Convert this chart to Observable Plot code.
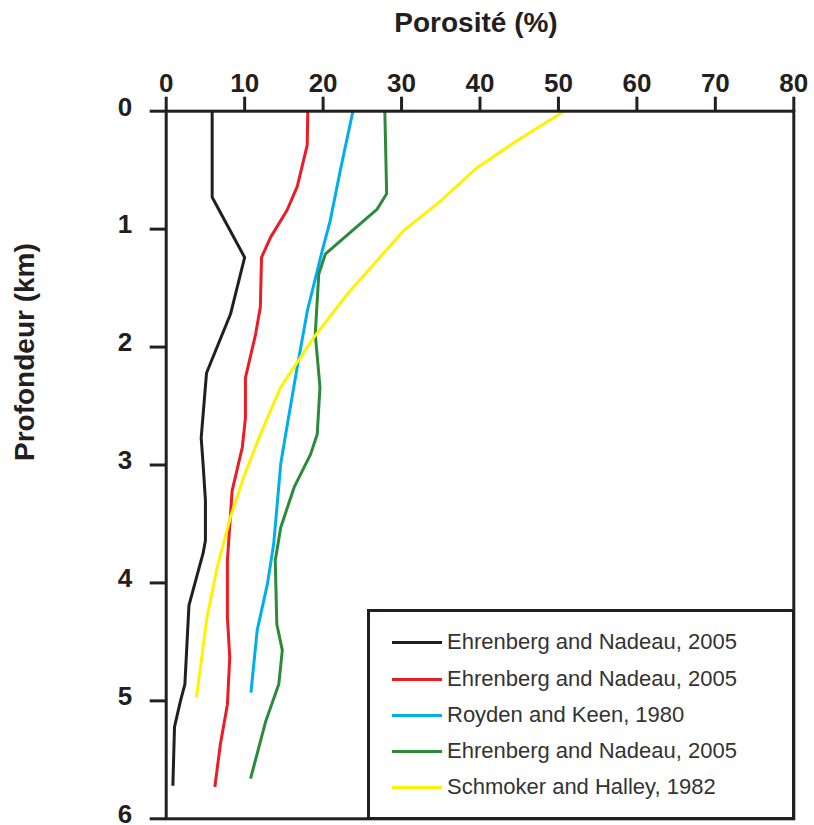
<!DOCTYPE html>
<html><head><meta charset="utf-8">
<script src="https://cdn.jsdelivr.net/npm/d3@7"></script>
<script src="https://cdn.jsdelivr.net/npm/@observablehq/plot@0.6"></script>
<style>
body{margin:0;background:#fff;}
#wrap{position:relative;width:814px;height:825px;font-family:"Liberation Sans",Arial,sans-serif;}
#legend{position:absolute;box-sizing:border-box;border:3px solid #231f20;background:#fff;}
.row{position:absolute;display:flex;align-items:center;height:24px;font-size:22px;color:#333;white-space:nowrap;}
.swatch{width:50px;height:3px;margin-right:5px;}
</style></head>
<body><div id="wrap"></div>
<script>
const xLabel = "Porosité (%)";
const yLabel = "Profondeur (km)";
const xTicks = [0, 10, 20, 30, 40, 50, 60, 70, 80];
const yTicks = [0, 1, 2, 3, 4, 5, 6];

const seriesNames = ["Ehrenberg and Nadeau, 2005", "Ehrenberg and Nadeau, 2005", "Royden and Keen, 1980", "Ehrenberg and Nadeau, 2005", "Schmoker and Halley, 1982"];
const seriesColors = ["#231f20", "#ed1c24", "#00aeef", "#2b8a3c", "#fff200"];

const blackDepth = [0, 0.73, 1.24, 1.72, 2.22, 2.77, 2.99, 3.30, 3.64, 3.75, 3.90, 4.19, 4.86, 5.0, 5.22, 5.72];
const blackPor   = [5.86, 5.86, 10.0, 8.2, 5.14, 4.46, 4.7, 5.0, 5.0, 4.7, 4.08, 2.9, 2.38, 1.82, 1.06, 0.85];

const redDepth = [0, 0.29, 0.64, 0.84, 1.07, 1.24, 1.66, 1.89, 2.26, 2.6, 2.85, 3.22, 3.81, 4.29, 4.63, 5.03, 5.37, 5.73];
const redPor   = [18.05, 17.97, 16.7, 15.4, 13.3, 12.15, 12.0, 11.4, 10.1, 10.1, 9.7, 8.4, 7.8, 7.8, 8.1, 7.8, 6.9, 6.2];

const blueDepth = [0, 0.5, 0.93, 1.18, 1.69, 2.17, 2.79, 2.99, 3.67, 4.01, 4.4, 4.93];
const bluePor   = [23.8, 22.2, 20.9, 19.9, 18.0, 16.7, 15.1, 14.6, 13.7, 12.9, 11.6, 10.8];

const greenDepth = [0, 0.70, 0.83, 1.21, 1.38, 1.89, 2.34, 2.74, 2.91, 3.19, 3.53, 3.81, 4.35, 4.57, 4.86, 5.17, 5.66];
const greenPor   = [27.87, 28.1, 26.9, 20.3, 19.45, 19.0, 19.6, 19.25, 18.4, 16.3, 14.6, 13.9, 14.1, 14.8, 14.35, 12.7, 10.75];

const yellowDepth = [0, 0.25, 0.49, 0.76, 1.01, 1.55, 1.92, 2.34, 2.74, 3.1, 3.44, 3.87, 4.29, 4.97];
const yellowPor   = [50.7, 44.7, 39.4, 35.0, 30.3, 23.1, 18.8, 14.6, 12.0, 9.9, 8.2, 6.5, 5.2, 3.86];

const depths = [blackDepth, redDepth, blueDepth, greenDepth, yellowDepth];
const pors = [blackPor, redPor, bluePor, greenPor, yellowPor];

const font = "'Liberation Sans', Arial, sans-serif";
const ink = "#231f20";

const lines = pors.map((p, i) => Plot.line(
  p.map((v, j) => ({por: v, depth: depths[i][j]})),
  {x: "por", y: "depth", stroke: seriesColors[i], strokeWidth: 3, strokeLinejoin: "round", strokeLinecap: "butt"}
));

const chart = Plot.plot({
  width: 814, height: 825,
  marginLeft: 165.7, marginRight: 20.7, marginTop: 110.7, marginBottom: 6.7,
  style: {fontFamily: font, color: ink, background: "#fff"},
  x: {domain: [0, 80]},
  y: {domain: [0, 6], reverse: true},
  marks: [
    Plot.axisX(xTicks, {anchor: "top", tickSize: 15, tickPadding: 4, fontSize: 26, fontWeight: "bold", strokeWidth: 3, label: null, fill: ink, tickFormat: "d"}),
    Plot.axisY(yTicks, {anchor: "left", tickSize: 16, tickPadding: 18, strokeWidth: 3, label: null, tickFormat: () => ""}),
    Plot.text(yTicks, {y: d => d, text: d => String(d), frameAnchor: "left", dx: -34, dy: -4, textAnchor: "end", lineAnchor: "middle", fontSize: 26, fontWeight: "bold", fill: ink}),
    ...lines,
    Plot.frame({stroke: ink, strokeWidth: 3}),
    Plot.text([xLabel], {text: d => d, frameAnchor: "top", dx: -4, dy: -79, lineAnchor: "bottom", fontSize: 28, fontWeight: "bold", fill: ink}),
    Plot.text([yLabel], {text: d => d, frameAnchor: "left", dx: -132.7, dy: -4, rotate: -90, lineAnchor: "bottom", fontSize: 28, fontWeight: "bold", fill: ink})
  ]
});

const wrap = document.getElementById("wrap");
wrap.appendChild(chart);
chart.style.position = "absolute";
chart.style.left = "0px";
chart.style.top = "0px";

const legend = document.createElement("div");
legend.id = "legend";
legend.style.left = "366.5px";
legend.style.top = "608.5px";
legend.style.width = "428.3px";
legend.style.height = "211.3px";
wrap.appendChild(legend);

const rowCenters = [642, 679, 715, 751, 787];
seriesNames.forEach((name, i) => {
  const row = document.createElement("div");
  row.className = "row";
  row.style.left = "22.5px";
  row.style.top = (rowCenters[i] - 12 - 611.5) + "px";
  const sw = document.createElement("div");
  sw.className = "swatch";
  sw.style.background = seriesColors[i];
  const tx = document.createElement("span");
  tx.textContent = name;
  row.appendChild(sw);
  row.appendChild(tx);
  legend.appendChild(row);
});
</script>
</body></html>
